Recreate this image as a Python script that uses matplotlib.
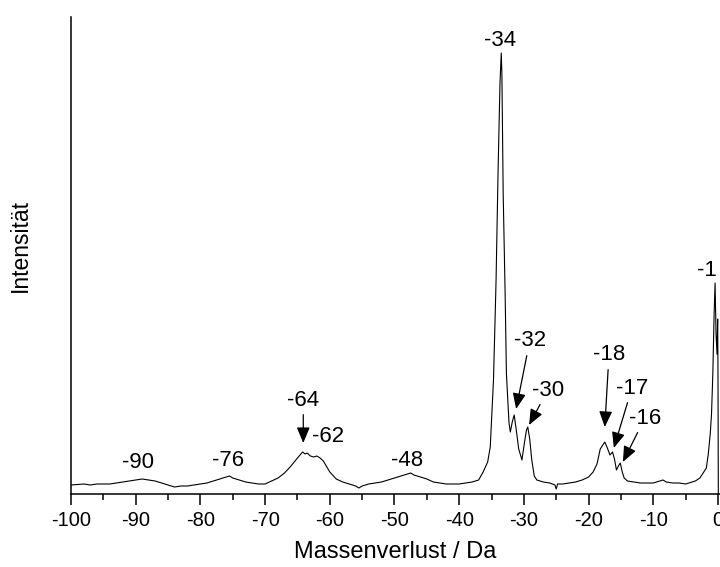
import matplotlib.pyplot as plt
from matplotlib import font_manager
from matplotlib.ticker import MultipleLocator
import numpy as np

# spektrum: masa (Da) i intenzitet, ocitano sa slike
masa = [-100, -98, -97, -96, -94, -93, -92, -91, -90, -89, -88, -87, -86, -85,
        -84, -83, -82, -81, -80, -79, -78, -77, -76, -75.5, -75, -74, -73, -72,
        -71, -70, -69, -68, -67, -66, -65, -64.2, -63.8, -63.5, -63, -62.5, -62,
        -61.5, -61, -60, -59, -58, -57, -56, -55.5, -55, -54, -53, -52, -51, -50,
        -49, -48, -47.5, -47, -46, -45, -44, -43, -42, -41,
        -40, -38, -37, -36.3, -35.6, -35.2, -34.7, -34.3, -34.0, -33.7, -33.5,
        -33.4, -33.2, -32.9, -32.7, -32.3, -32.1, -31.8, -31.5, -31.2, -30.8,
        -30.3, -29.9, -29.6, -29.4, -29.1, -28.8, -28.4, -28, -27, -26, -25.2, -25,
        -24.8, -24, -23, -22, -21, -20, -19.3, -18.7, -18.2, -17.5, -17.1, -16.7,
        -16.3, -16.0, -15.7, -15.4, -15.1, -14.8, -14.5, -14, -13, -12, -11, -10,
        -9, -8.5, -8, -7, -6, -5, -4, -3.5, -2.8, -2.2, -1.8, -1.5, -1.2, -1.0,
        -0.8, -0.6, -0.45, -0.3, -0.15, -0.05, 0.0, 0.05]
intenzitet = [9, 10, 9, 10, 10, 11, 12, 13, 14, 15, 14, 13, 11, 9,
              7, 8, 8, 9, 10, 11, 13, 15, 17, 18, 16, 14, 12, 11,
              10, 10, 13, 16, 21, 28, 36, 42, 40, 41, 38, 37, 38,
              36, 33, 22, 15, 12, 10, 8, 6, 8, 10, 11, 12, 14, 16,
              18, 20, 21, 19, 17, 15, 12, 11, 10, 10,
              10, 12, 14, 22, 32, 47, 114, 214, 320, 410, 441,
              420, 300, 200, 120, 71, 62, 72, 79, 65, 45,
              34, 52, 64, 67, 55, 35, 18, 14, 12, 11, 9, 5,
              10, 10, 11, 12, 14, 17, 22, 30, 45, 52, 46, 39,
              42, 35, 24, 28, 31, 22, 16, 13, 12, 11, 11, 11,
              13, 14, 12, 11, 11, 10, 12, 13, 16, 22, 26, 40, 60, 80,
              120, 180, 211, 160, 140, 175, 120, 0]

# oznake vrhova: tekst, polozaj teksta, vrh strelice (None = bez strelice)
oznake = [
    ('-90', -89.6, 31, None),
    ('-76', -75.7, 33, None),
    ('-64', -64.1, 94, (-64.1, 51)),
    ('-62', -60.3, 57, None),
    ('-48', -48.1, 34, None),
    ('-34', -33.7, 453, None),
    ('-32', -29.1, 153, (-31.2, 85)),
    ('-30', -26.3, 104, (-29.2, 69)),
    ('-18', -16.85, 139, (-17.5, 67)),
    ('-17', -13.3, 106, (-16.1, 46)),
    ('-16', -11.3, 76, (-14.7, 32)),
]

plt.rcParams['font.family'] = ['Liberation Sans', 'DejaVu Sans']
plt.rcParams['axes.unicode_minus'] = False

# uski font za brojeve na osi ako postoji
fontovi = {f.name for f in font_manager.fontManager.ttflist}
if 'Liberation Sans Narrow' in fontovi:
    tick_font, tick_size = 'Liberation Sans Narrow', 16
else:
    tick_font, tick_size = 'Liberation Sans', 14.5

fig = plt.figure(figsize=(7.2, 5.67), dpi=100)
ax = fig.add_axes([71 / 720, 73 / 567, 649 / 720, 477 / 567])

ax.plot(masa, intenzitet, color='black', lw=0.8)

for tekst, xt, yt, vrh in oznake:
    if vrh is None:
        ax.text(xt, yt, tekst, ha='center', va='center', fontsize=16)
    else:
        ax.annotate(tekst, xy=vrh, xytext=(xt, yt), ha='center', va='center',
                    fontsize=16,
                    arrowprops=dict(arrowstyle='-|>,head_length=0.6,head_width=0.25',
                                    color='black', lw=0.9,
                                    mutation_scale=16, shrinkA=1, shrinkB=0))
# zadnja oznaka je odrezana na rubu slike
ax.text(-3.3, 223, '-1', ha='left', va='center', fontsize=16)

ax.set_xlim(-100, 0.31)
ax.set_ylim(0, 477)
ax.spines['top'].set_visible(False)
ax.spines['right'].set_visible(False)
ax.spines['left'].set_linewidth(1.1)
ax.spines['bottom'].set_linewidth(1.1)
ax.set_yticks([])
ax.xaxis.set_major_locator(MultipleLocator(10))
ax.xaxis.set_minor_locator(MultipleLocator(5))
ax.tick_params(axis='x', which='major', length=8, width=1.1, pad=4)
ax.tick_params(axis='x', which='minor', length=4, width=1.1)
for lab in ax.get_xticklabels():
    lab.set_family(tick_font)
    lab.set_fontsize(tick_size)

ax.set_xlabel('Massenverlust / Da', fontsize=17, labelpad=8)
ax.set_ylabel('Intensität', fontsize=16.5)
ax.yaxis.set_label_coords(-0.06, 0.52)

fig.savefig('out.png', dpi=100)
